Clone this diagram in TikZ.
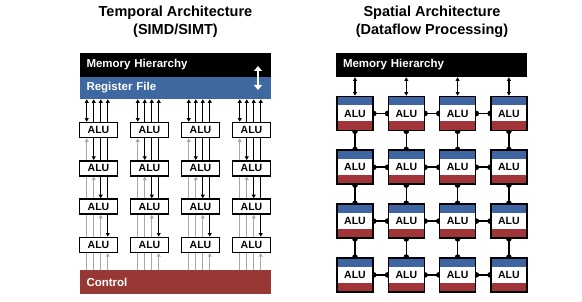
\documentclass[tikz,border=0pt]{standalone}
\usepackage{fontspec}
\setmainfont{Liberation Sans}
\usetikzlibrary{arrows.meta,calc}
\definecolor{regblue}{RGB}{62,104,160}
\definecolor{ctrlred}{RGB}{152,56,52}
\definecolor{tileblue}{RGB}{62,100,162}
\definecolor{tilered}{RGB}{160,52,56}
\definecolor{arrgray}{RGB}{168,168,168}
\pgfdeclarelayer{bg}
\pgfdeclarelayer{paper}
\pgfsetlayers{paper,bg,main}
\tikzset{
  titletext/.style={align=center,font=\fontsize{14.5}{18}\selectfont\bfseries},
  bar/.style={rectangle,inner sep=0pt,inner xsep=7pt,text width=177pt,align=left,
    font=\fontsize{11.5}{13}\selectfont\bfseries,text=white},
  alubox/.style={rectangle,draw,line width=1.5pt,fill=white,minimum width=38pt,
    minimum height=15pt,inner sep=0pt,font=\fontsize{10.5}{12}\selectfont\bfseries},
  tile/.style={rectangle,draw,line width=1.6pt,fill=white,minimum width=36pt,
    minimum height=34pt,inner sep=0pt,font=\fontsize{10.5}{12}\selectfont\bfseries,
    path picture={
      \fill[tileblue] (path picture bounding box.north west) rectangle
        ([yshift=-9pt]path picture bounding box.north east);
      \fill[tilered] (path picture bounding box.south west) rectangle
        ([yshift=9pt]path picture bounding box.south east);}},
  tipa/.tip={Triangle[length=3.6pt,width=3.8pt]},
  blk/.style={line width=1.4pt,draw=black},
  gry/.style={line width=1.4pt,draw=arrgray},
  link/.style={line width=1.6pt,draw=black},
}
\begin{document}
\begin{tikzpicture}[x=1pt,y=-1pt]
\begin{pgfonlayer}{paper}
\fill[white] (0,0) rectangle (582,302);
\end{pgfonlayer}
\useasboundingbox (0,0) rectangle (582,302);

% titles
\node[titletext] (t1) at (175.5,22) {Temporal Architecture\\(SIMD/SIMT)};
\node[titletext] (t2) at (432,22) {Spatial Architecture\\(Dataflow Processing)};

% ---------------- left panel ----------------
\node[bar,fill=black,minimum height=24pt] (Mem1) at (175,65) {Memory Hierarchy};
\node[bar,fill=regblue,minimum height=22pt] (Reg) at (175,88) {Register File};
\node[bar,fill=ctrlred,minimum height=24pt] (Ctl) at (175,282) {Control};
\coordinate (ua) at (258,66);
\coordinate (ub) at (258,90);
\draw[white,line width=2.6pt,{Triangle[length=5pt,width=8pt]}-{Triangle[length=5pt,width=8pt]}] (ua) -- (ub);

\foreach \c in {1,...,4}{
  \foreach \r in {1,...,4}{
    \node[alubox] (L\c\r) at ({98.5+51*(\c-1)},{130+38.3*(\r-1)}) {ALU};
  }
}

\foreach \c in {1,...,4}{
  % register file <-> first row
  \draw[blk,tipa-tipa] ($(L\c1.north west)+(8,0)$) -- ($(L\c1.north west |- Reg.south)+(8,0)$);
  \foreach \o in {15,22,29}{
    \draw[blk,-tipa] ($(L\c1.north west)+(\o,0)$) -- ($(L\c1.north west |- Reg.south)+(\o,0)$);
  }
  % between rows
  \foreach \s in {1,2,3}{
    \pgfmathtruncatemacro\nx{\s+1}
    \foreach \k in {1,...,4}{
      \pgfmathsetmacro\off{8+7*(\k-1)}
      \ifnum\k<\s\relax
        \draw[gry] ($(L\c\s.south west)+(\off,0)$) -- ($(L\c\nx.north west)+(\off,0)$);
      \fi
      \ifnum\k=\s\relax
        \draw[gry,-tipa] ($(L\c\nx.north west)+(\off,0)$) -- ($(L\c\s.south west)+(\off,0)$);
      \fi
      \ifnum\k=\nx\relax
        \draw[blk,-tipa] ($(L\c\s.south west)+(\off,0)$) -- ($(L\c\nx.north west)+(\off,0)$);
      \fi
      \ifnum\k>\nx\relax
        \draw[blk] ($(L\c\s.south west)+(\off,0)$) -- ($(L\c\nx.north west)+(\off,0)$);
      \fi
    }
  }
  % last row <- control
  \foreach \o in {8,15,22}{
    \draw[gry] ($(L\c4.south west)+(\o,0)$) -- ($(L\c4.south west |- Ctl.north)+(\o,0)$);
  }
  \draw[gry,-tipa] ($(L\c4.south west |- Ctl.north)+(29,0)$) -- ($(L\c4.south west)+(29,0)$);
}

% ---------------- right panel ----------------
\node[bar,fill=black,minimum height=24pt,text width=177pt] (Mem2) at (431.5,65) {Memory Hierarchy};

\foreach \c in {1,...,4}{
  \foreach \r in {1,...,4}{
    \node[tile] (R\c\r) at ({355+51.3*(\c-1)},{113.5+53.8*(\r-1)}) {ALU};
  }
  \draw[blk,tipa-tipa] (R\c1.north) -- (R\c1.north |- Mem2.south);
}

\begin{pgfonlayer}{bg}
\foreach \r in {1,...,4}{
  \foreach \c/\n in {1/2,2/3,3/4}{
    \draw[link] (R\c\r.east) -- (R\n\r.west);
    \fill (R\c\r.east) circle (2.8pt);
    \fill (R\n\r.west) circle (2.8pt);
  }
}
\foreach \c in {1,...,4}{
  \foreach \r/\n in {1/2,2/3,3/4}{
    \draw[link] (R\c\r.south) -- (R\c\n.north);
    \fill (R\c\r.south) circle (2.8pt);
    \fill (R\c\n.north) circle (2.8pt);
  }
}
\end{pgfonlayer}
\end{tikzpicture}
\end{document}
